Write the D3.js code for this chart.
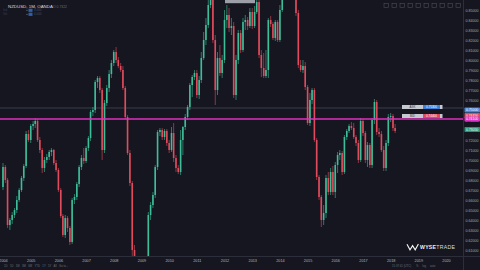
<!DOCTYPE html>
<html>
<head>
<meta charset="utf-8">
<script src="https://cdn.jsdelivr.net/npm/d3@7"></script>
<style>
  html, body { margin: 0; padding: 0; background: #151620; overflow: hidden; }
  text { font-family: "Liberation Sans", Arial, sans-serif; }
</style>
</head>
<body>
<svg id="chart" width="480" height="270"></svg>
<script>
// NZDUSD monthly candles, Jan 2004 onwards
const opens = [
  .673,.693,.680,.635,.640,.645,.650,.660,.670,.682,
  .694,.726,.720,.734,.736,.739,.720,.710,.692,.700,
  .703,.708,.710,.697,.690,.670,.644,.625,.642,.632,
  .618,.660,.663,.676,.693,.702,.699,.712,.722,.748,
  .750,.778,.782,.770,.710,.757,.772,.786,.797,.808,
  .800,.794,.790,.772,.743,.707,.677,.610,.560,.540,
  .548,.530,.522,.565,.645,.655,.665,.693,.728,.730,
  .723,.729,.717,.710,.727,.702,.692,.688,.720,.733,
  .743,.753,.775,.783,.787,.765,.780,.802,.820,.835,
  .855,.870,.820,.770,.802,.787,.800,.840,.845,.832,
  .834,.765,.800,.827,.810,.838,.840,.834,.848,.834,
  .848,.858,.805,.792,.784,.790,.840,.836,.822,.838,
  .820,.850,.865,.875,.870,.880,.885,.863,.847,.795,
  .790,.794,.773,.737,.760,.770,.720,.683,.663,.640,
  .647,.682,.668,.688,.668,.695,.705,.707,.688,.723,
  .729,.734,.732,.723,.717,.700,.739,.727,.700,.715,
  .695,.740,.758,.728,.726,.710,.692,.717,.743,.744,
  .732];
const highs = [
  .697,.695,.682,.642,.648,.652,.664,.672,.684,.696,
  .729,.730,.736,.739,.742,.741,.723,.712,.703,.706,
  .710,.712,.711,.700,.692,.672,.646,.645,.644,.634,
  .662,.666,.678,.695,.705,.712,.714,.724,.750,.753,
  .780,.784,.784,.772,.760,.775,.790,.800,.810,.813,
  .803,.797,.794,.774,.745,.710,.679,.615,.570,.555,
  .560,.545,.570,.648,.658,.668,.695,.730,.732,.732,
  .731,.731,.720,.733,.737,.705,.695,.730,.734,.746,
  .755,.777,.785,.790,.790,.784,.808,.828,.842,.860,
  .880,.885,.825,.808,.815,.805,.850,.855,.852,.842,
  .838,.805,.830,.830,.842,.845,.843,.852,.852,.854,
  .865,.868,.810,.807,.810,.842,.844,.838,.840,.840,
  .855,.872,.882,.885,.888,.895,.890,.866,.850,.800,
  .800,.798,.775,.767,.772,.772,.722,.685,.665,.655,
  .685,.688,.692,.694,.698,.708,.710,.709,.725,.731,
  .736,.738,.737,.725,.720,.742,.741,.729,.718,.717,
  .742,.761,.760,.732,.729,.714,.720,.746,.747,.746,
  .736];
const lows = [
  .670,.677,.632,.630,.636,.642,.647,.658,.668,.679,
  .692,.718,.717,.730,.732,.718,.707,.687,.688,.697,
  .700,.704,.695,.688,.668,.642,.623,.622,.628,.615,
  .616,.656,.660,.673,.690,.696,.697,.709,.719,.744,
  .747,.772,.767,.700,.707,.754,.768,.782,.794,.797,
  .792,.788,.770,.741,.705,.674,.602,.550,.530,.525,
  .520,.510,.508,.562,.640,.652,.662,.690,.724,.720,
  .720,.714,.707,.708,.698,.688,.686,.685,.705,.730,
  .740,.750,.763,.780,.762,.761,.777,.800,.815,.832,
  .852,.817,.755,.765,.784,.782,.797,.832,.828,.825,
  .762,.760,.796,.807,.808,.830,.830,.832,.831,.832,
  .846,.802,.783,.782,.782,.782,.833,.820,.819,.818,
  .818,.848,.862,.863,.865,.872,.860,.844,.792,.788,
  .787,.770,.735,.734,.756,.718,.680,.660,.633,.635,
  .642,.665,.665,.665,.662,.687,.700,.685,.686,.720,
  .727,.730,.721,.714,.697,.698,.724,.697,.693,.692,
  .692,.736,.725,.723,.708,.689,.689,.714,.738,.729,
  .727];
const closes = [
  .693,.680,.635,.640,.645,.650,.660,.670,.682,.694,
  .726,.720,.734,.736,.739,.720,.710,.692,.700,.703,
  .708,.710,.697,.690,.670,.644,.625,.642,.632,.618,
  .660,.663,.676,.693,.702,.699,.712,.722,.748,.750,
  .778,.782,.770,.710,.757,.772,.786,.797,.808,.800,
  .794,.790,.772,.743,.707,.677,.610,.560,.540,.548,
  .530,.522,.565,.645,.655,.665,.693,.728,.730,.723,
  .729,.717,.710,.727,.702,.692,.688,.720,.733,.743,
  .753,.775,.783,.787,.765,.780,.802,.820,.835,.855,
  .870,.820,.770,.802,.787,.800,.840,.845,.832,.834,
  .765,.800,.827,.810,.838,.840,.834,.848,.834,.848,
  .858,.805,.792,.784,.790,.840,.836,.822,.838,.820,
  .850,.865,.875,.870,.880,.885,.863,.847,.795,.790,
  .794,.773,.737,.760,.770,.720,.683,.663,.640,.647,
  .682,.668,.688,.668,.695,.705,.707,.688,.723,.729,
  .734,.732,.723,.717,.700,.739,.727,.700,.715,.695,
  .740,.758,.728,.726,.710,.692,.717,.743,.744,.732,
  .729];

const years = [2004,2005,2006,2007,2008,2009,2010,2011,2012,2013,2014,2015,2016,2017,2018,2019,2020];
const priceTicks = [.61,.62,.63,.64,.65,.66,.67,.68,.69,.70,.71,.72,.73,.74,.75,.76,.77,.78,.79,.80,.81,.82,.83,.84,.85];

const levelPrice = 0.7410;   // magenta horizontal line
const lastLinePrice = 0.7520; // faint grey price line
const chartTags = [{price: 0.7530, name: 'ASK', value: '0.75300', color: '#3d7fd9'},
                   {price: 0.7440, name: 'BID', value: '0.74400', color: '#e0485c'}];
const axisTags = [{price: 0.7500, value: '0.75000', color: '#4a86d8'},
                  {price: 0.7445, value: '0.74450', color: '#e0485c'},
                  {price: levelPrice, value: '0.74100', color: '#d935c4'},
                  {price: 0.7305, value: '0.73050', color: '#1f9a78'}];

const svg = d3.select('#chart');
const W = 480, H = 270, plotW = 463, plotH = 256;
const upColor = '#3dbd98', downColor = '#e14b5c';

svg.append('rect').attr('width', W).attr('height', H).attr('fill', '#151620');

const x = d3.scaleTime()
  .domain([new Date(2004, 0, 1), new Date(2020, 0, 1)])
  .range([3, 446]);
const y = d3.scaleLinear().domain([0.605, 0.86]).range([255, 0]);

const candles = opens.map((o, i) => ({
  date: new Date(2004, i, 1), o: o, h: highs[i], l: lows[i], c: closes[i]
}));
const col = d => d.c >= d.o ? upColor : downColor;

svg.append('defs').append('clipPath').attr('id', 'plot')
  .append('rect').attr('width', plotW).attr('height', plotH);

const plot = svg.append('g').attr('clip-path', 'url(#plot)');

plot.append('line')
  .attr('x1', 0).attr('x2', plotW)
  .attr('y1', y(lastLinePrice)).attr('y2', y(lastLinePrice))
  .attr('stroke', '#4b4f5b').attr('stroke-width', 0.7);

const cg = plot.selectAll('g.candle').data(candles).enter().append('g').attr('class', 'candle');
cg.append('line')
  .attr('x1', d => x(d.date)).attr('x2', d => x(d.date))
  .attr('y1', d => y(d.h)).attr('y2', d => y(d.l))
  .attr('stroke', col).attr('stroke-width', 0.6);
cg.append('rect')
  .attr('x', d => x(d.date) - 0.8).attr('width', 1.6)
  .attr('y', d => y(Math.max(d.o, d.c)))
  .attr('height', d => Math.max(0.6, Math.abs(y(d.o) - y(d.c))))
  .attr('fill', col);

plot.append('line')
  .attr('x1', 0).attr('x2', plotW)
  .attr('y1', y(levelPrice)).attr('y2', y(levelPrice))
  .attr('stroke', '#e02fbf').attr('stroke-width', 1.4);

// order tags inside the chart
const tg = plot.selectAll('g.tag').data(chartTags).enter().append('g')
  .attr('transform', d => `translate(402,${y(d.price)})`);
tg.append('rect').attr('x', 0).attr('y', -2).attr('width', 21).attr('height', 4).attr('fill', '#c7c9d0');
tg.append('rect').attr('x', 21).attr('y', -2).attr('width', 17).attr('height', 4).attr('fill', d => d.color);
tg.append('rect').attr('x', 38).attr('y', -2).attr('width', 2.5).attr('height', 4).attr('fill', '#c7c9d0');
tg.append('text').attr('x', 10.5).attr('y', 1.1).attr('text-anchor', 'middle')
  .attr('font-size', 3).attr('fill', '#333').text(d => d.name);
tg.append('text').attr('x', 29.5).attr('y', 1.1).attr('text-anchor', 'middle')
  .attr('font-size', 3).attr('fill', '#fff').text(d => d.value);

// high marker label near the top
plot.append('rect').attr('x', 225).attr('y', 0).attr('width', 30).attr('height', 3.2)
  .attr('fill', '#b4b7bf').attr('opacity', 0.85);

// borders
svg.append('line').attr('x1', plotW + 0.5).attr('x2', plotW + 0.5).attr('y1', 0).attr('y2', H)
  .attr('stroke', '#2c2f3a').attr('stroke-width', 1);
svg.append('line').attr('x1', 0).attr('x2', W).attr('y1', plotH + 0.5).attr('y2', plotH + 0.5)
  .attr('stroke', '#2c2f3a').attr('stroke-width', 1);

// price axis
const yAxis = svg.append('g').attr('transform', `translate(${plotW},0)`)
  .call(d3.axisRight(y).tickValues(priceTicks).tickSize(0).tickPadding(2.5).tickFormat(d3.format('.5f')));
yAxis.select('.domain').remove();
yAxis.selectAll('text').attr('font-size', 3.6).attr('fill', '#a5a8b1')
  .attr('font-family', '"Liberation Sans", Arial, sans-serif');

const at = svg.selectAll('g.atag').data(axisTags).enter().append('g')
  .attr('transform', d => `translate(${plotW + 1.5},${y(d.price)})`);
at.append('rect').attr('x', 0).attr('y', -2.4).attr('width', 15.5).attr('height', 4.8).attr('rx', 0.6)
  .attr('fill', d => d.color);
at.append('text').attr('x', 1.4).attr('y', 1.2).attr('font-size', 3.4).attr('fill', '#fff').text(d => d.value);

// time axis
const xAxis = svg.append('g').attr('transform', `translate(0,${plotH})`)
  .call(d3.axisBottom(x).tickValues(years.map(v => new Date(v, 0, 1)))
    .tickSize(0).tickPadding(3).tickFormat(d3.timeFormat('%Y')));
xAxis.select('.domain').remove();
xAxis.selectAll('text').attr('font-size', 3.8).attr('fill', '#b2b5be')
  .attr('font-family', '"Liberation Sans", Arial, sans-serif');

// bottom toolbar
svg.append('text').attr('x', 4).attr('y', 267).attr('font-size', 2.8).attr('fill', '#6b6e79')
  .attr('xml:space', 'preserve').text('1D   5D   1M   3M   6M   YTD   1Y   5Y   All   Go to...');
svg.append('text').attr('x', 392).attr('y', 267).attr('font-size', 2.8).attr('fill', '#6b6e79')
  .attr('xml:space', 'preserve').text('15:37:41 (UTC)      %     log     auto');

// legend, top left
svg.append('text').attr('x', 8).attr('y', 7.5).attr('font-size', 4.4).attr('fill', '#d8dae0')
  .text('NZDUSD, 1M, OANDA');
svg.append('text').attr('x', 53).attr('y', 7.5).attr('font-size', 3.4).attr('fill', '#6b6e79').text('O 0.7322');
[11.3, 15.3].forEach((yy, k) => {
  svg.append('circle').attr('cx', 27).attr('cy', yy - 1).attr('r', 0.5).attr('fill', '#9ea1aa');
  svg.append('rect').attr('x', 28.5).attr('y', yy - 2.6).attr('width', 4).attr('height', 3.2).attr('fill', '#2f5fa8');
  svg.append('text').attr('x', 3).attr('y', yy).attr('font-size', 3).attr('fill', '#3b3e49').text(k ? 'Vol' : 'Ind');
  svg.append('text').attr('x', 34).attr('y', yy).attr('font-size', 3).attr('fill', '#4a4d58').text('0.000');
});

// toolbar icons, top right
const icons = [384, 392, 400, 408, 416, 424, 432, 440, 448, 456];
svg.selectAll('rect.icon').data(icons).enter().append('rect')
  .attr('x', d => d).attr('y', 3.5).attr('width', 4.5).attr('height', 4)
  .attr('fill', 'none').attr('stroke', '#4b4e59').attr('stroke-width', 0.6);

// watermark
svg.append('path').attr('d', 'M407,244.2 L410,249.8 L412.6,245.6 L415.2,249.8 L418.4,244')
  .attr('fill', 'none').attr('stroke', '#f2f2f2').attr('stroke-width', 1.1);
const wm = svg.append('text').attr('x', 420).attr('y', 249.3).attr('font-size', 5.2).attr('fill', '#f2f2f2')
  .attr('letter-spacing', 0.25);
wm.append('tspan').attr('font-weight', 'bold').text('WYSE');
wm.append('tspan').attr('font-weight', 'normal').attr('fill', '#dcdcdc').text('TRADE');
</script>
</body>
</html>
